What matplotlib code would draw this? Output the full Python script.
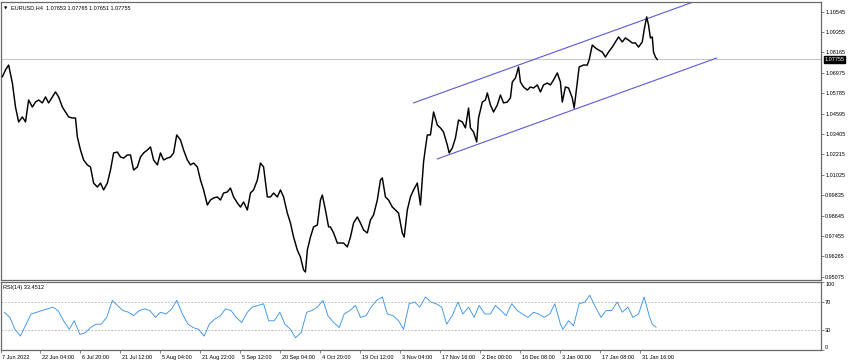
import matplotlib
matplotlib.use("Agg")
import matplotlib.pyplot as plt
import matplotlib.transforms as mtransforms

plt.rcParams['font.family'] = ['Liberation Sans', 'DejaVu Sans']

# ---------------- data ----------------
price_bars = [3, 8, 13, 19, 24, 29, 35, 40, 45, 51, 56, 61, 67, 72, 77, 83, 88, 93, 99, 104,
              109, 115, 120, 123, 128, 133, 139, 144, 149, 155, 160, 165, 171, 176, 181, 187, 192, 197, 203, 208,
              213, 219, 224, 229, 235, 240, 245, 251, 256, 261, 267, 272, 277, 282, 288, 293, 299, 304, 309, 315,
              320, 325, 331, 336, 341, 347, 352, 357, 363, 368, 373, 379, 384, 389, 395, 400, 405, 411, 416, 421,
              427, 432, 437, 443, 448, 453, 459, 464, 469, 475, 480, 485, 488, 491, 496, 501, 507, 512, 515, 520,
              525, 528, 533, 539, 544, 549, 555, 560, 565, 571, 576, 581, 587, 592, 597, 603, 608, 611, 616, 621,
              627, 632, 637, 643, 646, 651, 656, 661, 667, 672, 677, 680, 683, 688, 693, 699, 704, 709, 715, 718,
              723, 728, 733, 739, 744, 749, 752, 757, 762, 765, 771, 776, 779, 784, 789, 795, 800, 805, 811, 816,
              819, 824, 829, 832, 837, 843, 848, 853, 859, 864, 869, 875, 880, 885, 891, 896, 899, 904, 909, 915,
              918, 923, 926, 933, 939, 942, 947, 952, 957, 963, 968, 973, 979, 984, 989, 995, 1000, 1005, 1011, 1016,
              1021, 1027, 1030, 1034, 1037, 1040, 1043, 1045, 1048, 1051]
price_close = [1.0675, 1.0714, 1.0743, 1.0638, 1.0498, 1.0411, 1.0440, 1.0411, 1.0539, 1.0498,
               1.0527, 1.0539, 1.0522, 1.0557, 1.0522, 1.0557, 1.0586, 1.0557, 1.0498, 1.0469,
               1.0440, 1.0434, 1.0434, 1.0323, 1.0247, 1.0189, 1.0160, 1.0148, 1.0054, 1.0031,
               1.0054, 1.0014, 1.0054, 1.0130, 1.0230, 1.0235, 1.0206, 1.0200, 1.0218, 1.0218,
               1.0130, 1.0148, 1.0206, 1.0230, 1.0247, 1.0265, 1.0189, 1.0160, 1.0230, 1.0189,
               1.0200, 1.0206, 1.0230, 1.0335, 1.0306, 1.0247, 1.0189, 1.0160, 1.0171, 1.0148,
               1.0072, 1.0014, 0.9926, 0.9955, 0.9967, 0.9973, 0.9955, 0.9996, 1.0002, 1.0025,
               0.9973, 0.9938, 0.9914, 0.9944, 0.9897, 0.9996, 1.0014, 1.0072, 1.0171, 1.0148,
               0.9973, 0.9973, 0.9996, 0.9973, 1.0014, 0.9973, 0.9879, 0.9821, 0.9739, 0.9663,
               0.9622, 0.9547, 0.9535, 0.9663, 0.9739, 0.9798, 0.9809, 0.9955, 0.9984, 0.9897,
               0.9798, 0.9798, 0.9763, 0.9704, 0.9704, 0.9704, 0.9681, 0.9739, 0.9821, 0.9856,
               0.9821, 0.9780, 0.9763, 0.9838, 0.9868, 0.9955, 1.0072, 1.0084, 0.9973, 0.9955,
               0.9914, 0.9897, 0.9879, 0.9763, 0.9739, 0.9897, 0.9973, 1.0014, 1.0054, 0.9926,
               1.0177, 1.0259, 1.0335, 1.0335, 1.0469, 1.0393, 1.0376, 1.0352, 1.0276, 1.0230,
               1.0259, 1.0317, 1.0422, 1.0411, 1.0376, 1.0492, 1.0376, 1.0352, 1.0294, 1.0434,
               1.0527, 1.0539, 1.0580, 1.0510, 1.0469, 1.0510, 1.0568, 1.0522, 1.0527, 1.0551,
               1.0644, 1.0667, 1.0732, 1.0644, 1.0615, 1.0597, 1.0615, 1.0609, 1.0627, 1.0586,
               1.0627, 1.0638, 1.0627, 1.0656, 1.0697, 1.0644, 1.0527, 1.0615, 1.0609, 1.0551,
               1.0492, 1.0644, 1.0732, 1.0743, 1.0743, 1.0773, 1.0860, 1.0843, 1.0831, 1.0819,
               1.0790, 1.0819, 1.0848, 1.0878, 1.0907, 1.0878, 1.0901, 1.0889, 1.0872, 1.0872,
               1.0848, 1.0878, 1.0948, 1.1024, 1.0977, 1.0901, 1.0907, 1.0819, 1.0790, 1.07755]

rsi_bars = [6, 15, 23, 32, 41, 49, 58, 66, 75, 84, 92, 101, 110, 118, 127, 136, 144, 153, 161, 170,
            179, 187, 196, 205, 213, 222, 231, 239, 248, 256, 265, 274, 282, 291, 300, 308, 317, 326, 334, 343,
            352, 360, 369, 377, 386, 395, 403, 412, 421, 429, 438, 447, 455, 464, 472, 481, 490, 498, 507, 516,
            524, 533, 542, 550, 559, 568, 576, 585, 593, 602, 611, 619, 628, 637, 645, 654, 663, 671, 680, 689,
            697, 706, 714, 723, 732, 740, 749, 758, 766, 775, 784, 792, 801, 809, 818, 827, 835, 844, 853, 861,
            870, 879, 887, 896, 900, 909, 917, 926, 935, 943, 952, 961, 969, 978, 987, 995, 1004, 1012, 1021, 1030,
            1038, 1043, 1049]
rsi_vals = [55.5, 48, 30.5, 20.5, 38, 53, 55.5, 58, 60.5, 63, 58, 43, 30.5, 43, 23, 25.5, 33, 38, 38, 48,
            73, 65.5, 58, 55.5, 50.5, 58, 60.5, 58, 48, 55.5, 53, 60.5, 73, 53, 38, 33, 30.5, 20.5, 38, 45.5,
            50.5, 60.5, 58, 48, 40.5, 55.5, 63, 65.5, 68, 43, 43, 55.5, 38, 30.5, 18, 25.5, 55.5, 58, 63, 73,
            50.5, 40.5, 33, 53, 58, 65.5, 48, 50.5, 63, 73, 78, 53, 50.5, 43, 30.5, 68, 70.5, 63, 78, 70.5,
            68, 63, 38, 50.5, 70.5, 53, 63, 48, 65.5, 53, 53, 65.5, 58, 50.5, 68, 58, 53, 48, 55.5, 53,
            48, 53, 68, 38, 30.5, 43, 35.5, 68, 70.5, 80.5, 63, 48, 58, 58, 70.5, 55.5, 63, 48, 53, 78,
            50.5, 38, 33.4512]

channel_upper_bars = [661, 1107]
channel_upper_price = [1.0522, 1.1109]
channel_lower_bars = [699, 1146]
channel_lower_price = [1.0195, 1.0784]

price_ticks = [1.10545, 1.09355, 1.08165, 1.06975, 1.05785, 1.04595, 1.03405, 1.02215,
               1.01025, 0.99835, 0.98645, 0.97455, 0.96265, 0.95075]
last_price = 1.07755
ohlc_text = "EURUSD,H4  1.07653 1.07765 1.07651 1.07755"
rsi_text = "RSI(14) 33.4512"
rsi_levels = [30, 70]

date_bars = [0, 64, 128, 192, 256, 320, 384, 448, 512, 576, 640, 704, 768, 832, 896, 960, 1024]
date_labels = ["7 Jun 2022", "22 Jun 04:00", "6 Jul 20:00", "21 Jul 12:00", "5 Aug 04:00",
               "21 Aug 22:00", "5 Sep 12:00", "20 Sep 04:00", "4 Oct 20:00", "19 Oct 12:00",
               "3 Nov 04:00", "17 Nov 16:00", "2 Dec 00:00", "16 Dec 08:00", "3 Jan 00:00",
               "17 Jan 08:00", "31 Jan 16:00"]

# ---------------- figure ----------------
W, H = 850, 364
fig = plt.figure(figsize=(W / 100, H / 100), dpi=100)
fig.patch.set_facecolor('white')

def rect(x0, y0, x1, y1):
    return [x0 / W, 1 - y1 / H, (x1 - x0) / W, (y1 - y0) / H]

ax1 = fig.add_axes(rect(0.5, 2, 821, 280))
ax2 = fig.add_axes(rect(0.5, 282, 821, 350), sharex=ax1)

frame_col = '#6a6a6a'
fs = 4.0
xmax = 1313

for ax in (ax1, ax2):
    for s in ax.spines.values():
        s.set_color(frame_col)
        s.set_linewidth(0.9)
    ax.set_facecolor('white')

# main price panel
ax1.axhline(last_price, color='#c8c8c8', lw=0.8, zorder=1)
ax1.plot(price_bars, price_close, color='black', lw=1.05, zorder=3)
ax1.plot(channel_upper_bars, channel_upper_price, color='#5a5ad6', lw=0.8, zorder=2)
ax1.plot(channel_lower_bars, channel_lower_price, color='#5a5ad6', lw=0.8, zorder=2)
ax1.set_xlim(0, xmax)
ax1.set_ylim(0.94882, 1.11111)
ax1.yaxis.tick_right()
ax1.set_yticks(price_ticks)
ax1.set_yticklabels([f"{v:.5f}" for v in price_ticks])
ax1.tick_params(axis='y', length=2, width=0.6, color=frame_col, labelsize=fs, pad=1)
ax1.tick_params(axis='x', bottom=False, labelbottom=False)

ax1.annotate(f"{last_price:.5f}", xy=(1.0, last_price), xycoords=('axes fraction', 'data'),
             xytext=(2.5, 0), textcoords='offset points', va='center', ha='left',
             fontsize=fs, color='white',
             bbox=dict(boxstyle='square,pad=0.15', fc='black', ec='black'), zorder=10,
             annotation_clip=False)

ax1.text(3 / 821, 1 - 4 / 278, "\u25BC", transform=ax1.transAxes, fontsize=3.2,
         va='top', ha='left', family='DejaVu Sans')
ax1.text(11 / 821, 1 - 3 / 278, ohlc_text, transform=ax1.transAxes, fontsize=fs,
         va='top', ha='left')

# RSI panel
for lv in rsi_levels:
    ax2.axhline(lv, color='#b0b0b0', lw=0.6, ls=(0, (2, 2)), zorder=1)
ax2.plot(rsi_bars, rsi_vals, color='#3d95e6', lw=0.65, zorder=3)
ax2.set_ylim(0, 100)
ax2.yaxis.tick_right()
ax2.set_yticks([0, 30, 70, 100])
ax2.set_yticklabels(["0", "30", "70", "100"])
ax2.tick_params(axis='y', length=2, width=0.6, color=frame_col, labelsize=fs, pad=1)
labs = ax2.get_yticklabels()
labs[0].set_va('bottom')
labs[3].set_va('top')
ax2.text(3 / 821, 1 - 3 / 68, rsi_text, transform=ax2.transAxes, fontsize=fs,
         va='top', ha='left')

ax2.set_xticks(date_bars)
ax2.set_xticklabels(date_labels)
ax2.tick_params(axis='x', length=2, width=0.6, color=frame_col, labelsize=fs, pad=1.5)
for lab in ax2.get_xticklabels():
    lab.set_ha('left')
    lab.set_transform(lab.get_transform() + mtransforms.ScaledTranslation(1.5 / 100, 0, fig.dpi_scale_trans))
ax2.set_xlim(0, xmax)

fig.savefig("out.png", dpi=100, facecolor='white')
